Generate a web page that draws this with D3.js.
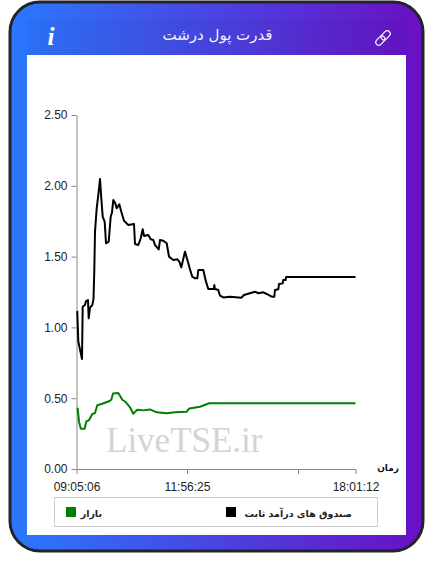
<!DOCTYPE html>
<html>
<head>
<meta charset="utf-8">
<script src="https://cdn.jsdelivr.net/npm/d3@7"></script>
<style>
  html, body { margin: 0; padding: 0; background: #fff; }
  svg { display: block; }
</style>
</head>
<body>
<svg id="chart" width="433" height="574"></svg>
<script>
const title = "قدرت پول درشت";
const xName = "زمان";
const watermark = "LiveTSE.ir";
const yTicks = [0, 0.5, 1, 1.5, 2, 2.5];
const xTicks = [0, 110.5, 221.5, 279];
const xTickLabels = ["09:05:06", "11:56:25", "", "18:01:12"];

const fundName = "صندوق های درآمد ثابت";
const fundX = [0.5, 0.8, 1.8, 4.2, 5.5, 6.2, 8.5, 9.5, 11.5, 12.2, 13.5, 15.8, 17, 17.8, 18.5, 20.2, 21.8, 23.5, 24.8, 26.2, 28.2, 29.5, 32.2, 34.2, 35.5, 36.8, 38.8, 40.2, 42.8, 44.8, 47.5, 51.8, 57.5, 58.5, 61.8, 64.2, 66.2, 67.5, 71.8, 74.2, 76.8, 78.5, 82.2, 83.5, 86.8, 90.2, 92.5, 96.8, 100.8, 102.8, 104.8, 108.5, 111.8, 113.2, 115.8, 118.5, 120.8, 121.8, 126.8, 129.5, 131.8, 137.4, 137.8, 138.4, 141.8, 143.5, 146.8, 153.5, 165, 167.5, 178.5, 181.8, 186.8, 190.2, 195.2, 197.8, 198.5, 201.8, 202.5, 206.2, 206.8, 209.2, 209.5, 279];
const fundY = [1.1, 1.11, 0.9, 0.82, 0.777, 1.146, 1.158, 1.186, 1.193, 1.064, 1.139, 1.158, 1.2, 1.4, 1.676, 1.841, 1.935, 2.048, 1.911, 1.782, 1.746, 1.594, 1.605, 1.782, 1.812, 1.9, 1.876, 1.841, 1.869, 1.817, 1.753, 1.723, 1.73, 1.589, 1.582, 1.629, 1.693, 1.645, 1.652, 1.622, 1.617, 1.582, 1.551, 1.617, 1.612, 1.594, 1.5, 1.476, 1.481, 1.464, 1.424, 1.535, 1.453, 1.417, 1.358, 1.347, 1.347, 1.405, 1.405, 1.323, 1.271, 1.271, 1.299, 1.271, 1.264, 1.224, 1.212, 1.217, 1.21, 1.229, 1.252, 1.241, 1.248, 1.236, 1.217, 1.217, 1.264, 1.269, 1.306, 1.311, 1.335, 1.335, 1.356, 1.356];

const marketName = "بازار";
const marketX = [0.5, 1.2, 2.5, 4.2, 8.2, 9.8, 12.5, 15.8, 18.5, 20.8, 25.8, 32.5, 34.8, 36.5, 41.8, 45.8, 49.2, 53.5, 56.8, 60.8, 66.8, 73.5, 80.2, 90.2, 98.5, 110.2, 112.8, 123.5, 132.8, 153.5, 279];
const marketY = [0.43, 0.426, 0.336, 0.285, 0.285, 0.336, 0.344, 0.388, 0.395, 0.45, 0.461, 0.478, 0.489, 0.534, 0.537, 0.489, 0.473, 0.436, 0.39, 0.419, 0.414, 0.421, 0.4, 0.393, 0.4, 0.405, 0.428, 0.44, 0.464, 0.464, 0.464];

const MARGIN = { top: 115, left: 76.5 };
const boundsWidth = 279;
const boundsHeight = 354;
const AXIS_COLOR = "#888";
const ARABIC_FONT = "'DejaVu Sans', sans-serif";

const svg = d3.select("#chart");

const defs = svg.append("defs");
const grad = defs.append("linearGradient").attr("id", "cardGrad");
grad.append("stop").attr("offset", "0%").attr("stop-color", "#2979ff");
grad.append("stop").attr("offset", "100%").attr("stop-color", "#6a0fc4");

// card and white panel
svg.append("rect")
  .attr("x", 10).attr("y", 2).attr("width", 413).attr("height", 549).attr("rx", 30)
  .attr("fill", "url(#cardGrad)").attr("stroke", "#22242a").attr("stroke-width", 3);
svg.append("rect")
  .attr("x", 27).attr("y", 19).attr("width", 379).attr("height", 36)
  .attr("fill", "#000").attr("opacity", 0.03);
svg.append("rect")
  .attr("x", 27).attr("y", 55).attr("width", 379).attr("height", 480)
  .attr("fill", "#fff");

// header
svg.append("text")
  .attr("x", 217.5).attr("y", 40)
  .attr("text-anchor", "middle").attr("direction", "rtl")
  .style("font", `15px ${ARABIC_FONT}`).attr("fill", "#f2f4ff")
  .text(title);
svg.append("text")
  .attr("x", 51).attr("y", 45)
  .attr("text-anchor", "middle")
  .style("font", "italic bold 25px 'Liberation Serif', serif").attr("fill", "#fff")
  .text("i");
const link = svg.append("g")
  .attr("transform", "translate(383,38) rotate(-45)")
  .attr("fill", "none").attr("stroke", "#fff").attr("stroke-width", 1.1);
link.append("rect").attr("x", -9).attr("y", -3).attr("width", 10.5).attr("height", 6).attr("rx", 3);
link.append("rect").attr("x", -1.5).attr("y", -3).attr("width", 10.5).attr("height", 6).attr("rx", 3);

const xScale = d3.scaleLinear().domain([0, 279]).range([0, boundsWidth]);
const yScale = d3.scaleLinear().domain([0, 2.5]).range([boundsHeight, 0]);

const g = svg.append("g").attr("transform", `translate(${MARGIN.left},${MARGIN.top})`);

// watermark sits under the lines
g.append("text")
  .attr("x", 29.5).attr("y", 336.5)
  .style("font", "35px 'Liberation Serif', serif")
  .attr("fill", "#d6d3d3")
  .text(watermark);

const yAxis = d3.axisLeft(yScale).tickValues(yTicks).tickFormat(d3.format(".2f"))
  .tickSize(5).tickSizeOuter(0).tickPadding(4);
const xAxis = d3.axisBottom(xScale).tickValues(xTicks)
  .tickFormat((d, i) => xTickLabels[i]).tickSize(5).tickSizeOuter(0).tickPadding(8);

const yG = g.append("g").call(yAxis);
const xG = g.append("g").attr("transform", `translate(0,${boundsHeight})`).call(xAxis);
[yG, xG].forEach((a) => {
  a.selectAll("path, line").attr("stroke", AXIS_COLOR);
  a.selectAll("text").style("font", "12px 'Liberation Sans', sans-serif").attr("fill", "#222");
});

const lineBuilder = d3.line().x((d) => xScale(d[0])).y((d) => yScale(d[1]));
g.append("path")
  .attr("d", lineBuilder(d3.zip(marketX, marketY)))
  .attr("fill", "none").attr("stroke", "#008000").attr("stroke-width", 2)
  .attr("stroke-linejoin", "round");
g.append("path")
  .attr("d", lineBuilder(d3.zip(fundX, fundY)))
  .attr("fill", "none").attr("stroke", "#000").attr("stroke-width", 2)
  .attr("stroke-linejoin", "round");

svg.append("text")
  .attr("x", 399).attr("y", 471)
  .attr("text-anchor", "start").attr("direction", "rtl")
  .style("font", `bold 9px ${ARABIC_FONT}`).attr("fill", "#111")
  .text(xName);

// legend
svg.append("rect")
  .attr("x", 54.5).attr("y", 497.5).attr("width", 323).attr("height", 29)
  .attr("fill", "#fff").attr("stroke", "#ccc");
const legendItems = [
  { name: fundName, color: "#000", box: 226, textEnd: 352 },
  { name: marketName, color: "#008000", box: 66, textEnd: 102 },
];
legendItems.forEach((d) => {
  svg.append("rect")
    .attr("x", d.box).attr("y", 507).attr("width", 10).attr("height", 10)
    .attr("fill", d.color);
  svg.append("text")
    .attr("x", d.textEnd).attr("y", 517)
    .attr("text-anchor", "start").attr("direction", "rtl")
    .style("font", `bold 9.5px ${ARABIC_FONT}`).attr("fill", "#222")
    .text(d.name);
});
</script>
</body>
</html>
